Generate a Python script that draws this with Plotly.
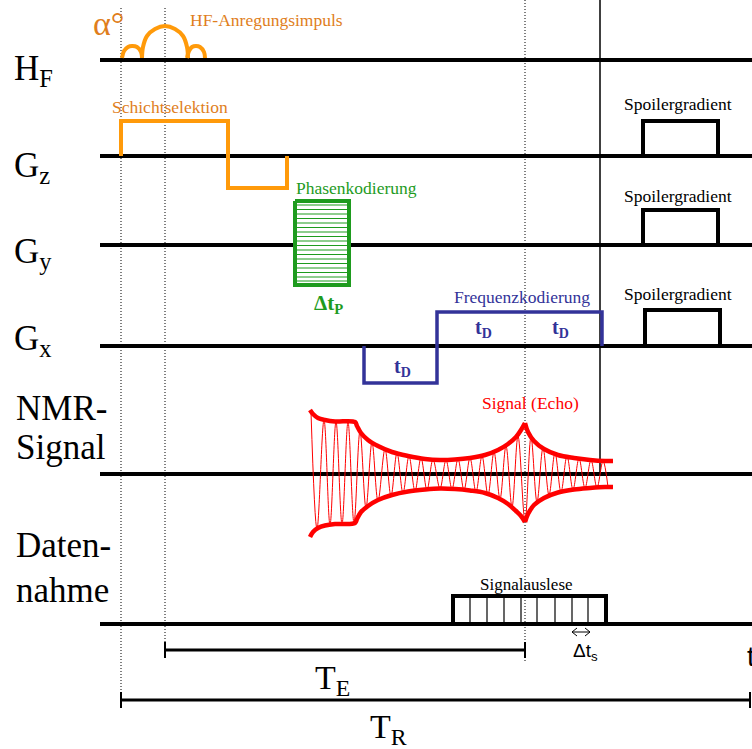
import plotly.graph_objects as go

W, H = 752, 749

# ---- channel baselines (y positions in diagram units, top = 0) ----
channel_names = ["HF", "Gz", "Gy", "Gx", "NMR", "Daten"]
baseline_y = [60, 156, 245, 346, 474, 624]
baseline_x0 = 100
baseline_x1 = 752

# ---- timing markers ----
t_rf_start = 121
t_rf_center = 165
t_echo = 525
t_acq_end = 600

# ---- HF pulse (sinc lobes) ----
hf_lobe_left_x = [122, 124, 128, 132, 137, 141, 142]
hf_lobe_left_y = [58, 51, 47, 46, 47, 52, 58]
hf_lobe_main_x = [142, 143, 147, 155, 165, 175, 183, 187, 188]
hf_lobe_main_y = [58, 47, 36, 29, 26, 29, 36, 47, 58]
hf_lobe_right_x = [187, 189, 192, 196, 200, 204, 205]
hf_lobe_right_y = [58, 51, 47, 46, 47, 52, 58]

# ---- gradients ----
gz_x = [121, 121, 228, 228, 287, 287]
gz_y = [156, 121, 121, 188, 188, 156]

gy_box_x = [295, 295, 349, 349, 295]
gy_box_y = [201, 285, 285, 201, 201]
gy_steps_y = [205, 209.5, 214, 218.5, 223, 227.5, 232, 236.5, 241, 245.5,
              250, 254.5, 259, 263.5, 268, 272.5, 277, 281]

gx_x = [364, 364, 437, 437, 602, 602]
gx_y = [346, 383, 383, 312, 312, 346]

spoiler_z_x = [643, 643, 718, 718]
spoiler_z_y = [156, 121, 121, 156]
spoiler_y_x = [643, 643, 718, 718]
spoiler_y_y = [245, 210, 210, 245]
spoiler_x_x = [645, 645, 720, 720]
spoiler_x_y = [346, 310, 310, 346]

# ---- NMR signal envelope ----
env_up_a_x = [310, 313, 318, 325, 335, 355, 357, 361, 368, 378, 392, 408, 425, 440, 455, 470, 485, 498, 508, 516, 521, 525]
env_up_a_y = [410, 414, 418, 420, 421.5, 422, 426, 433, 440, 446, 452, 456, 459, 460, 459.5, 458, 455, 450, 444, 437, 430, 423]
env_up_b_x = [525, 528, 534, 544, 558, 574, 590, 605, 613]
env_up_b_y = [423, 432, 441, 449, 455, 458, 460, 461, 461]
env_lo_a_x = env_up_a_x
env_lo_a_y = [537, 532, 528, 525.5, 524, 523, 519, 512, 506, 500, 495, 491.5, 489.5, 488.5, 489, 490.5, 493, 498, 504, 511, 516, 522]
env_lo_b_x = env_up_b_x
env_lo_b_y = [522, 514, 505, 498, 492.5, 489.5, 488, 487, 487]

# ---- NMR signal oscillation extrema ----
osc_x = [311, 317, 324, 330, 336, 342, 348, 354, 360, 366, 372, 378, 385, 391, 397, 403,
         409, 415, 421, 427, 433, 440, 446, 452, 458, 464, 470, 476, 482, 488, 494, 500,
         506, 512, 518, 525, 531, 537, 543, 549, 555, 561, 567, 573, 579, 585, 591, 597,
         603, 608]
osc_y = [412, 529, 420, 525, 421.5, 524, 422, 523, 431, 508, 442, 501, 449, 496, 453, 493,
         456, 491, 458, 490, 459.5, 488.5, 460, 489, 459, 490, 458, 492, 456, 495, 452, 499,
         446, 507, 436, 521, 437, 502, 448, 495, 453, 492, 456, 489.5, 458.5, 488, 460, 487.5,
         461, 487]

# ---- data acquisition ----
acq_x = [453, 453, 606, 606]
acq_y = [624, 596, 596, 624]
acq_samples_x = [470, 487, 504, 521, 537, 555, 572, 588]

# ---- time intervals ----
te_x = [165, 525]
te_y = 650
tr_x = [121, 750]
tr_y = 700

ORANGE = "#FF9A0A"
ORANGE_TXT = "#E07E1C"
GREEN = "#1E9B1E"
BLUE = "#333399"
RED = "#FF0000"
SERIF = "Liberation Serif"
SANS = "Liberation Sans"

fig = go.Figure()


def line(xs, ys, color="black", width=4, dash=None, shape="linear", fill=None, fillcolor=None):
    fig.add_trace(go.Scatter(
        x=xs, y=ys, mode="lines",
        line=dict(color=color, width=width, dash=dash, shape=shape),
        fill=fill, fillcolor=fillcolor,
        hoverinfo="skip", showlegend=False))


# dotted timing lines
DOT = "1px,2px"
line([t_rf_start, t_rf_start], [8, 694], width=1, dash=DOT)
line([t_rf_center, t_rf_center], [8, 650], width=1, dash=DOT)
line([t_echo, t_echo], [0, 662], width=1, dash=DOT)
line([t_acq_end, t_acq_end], [0, 474], width=1.5)

# baselines
for by in baseline_y:
    line([baseline_x0, baseline_x1], [by, by], width=4)

# HF pulse
for xs, ys in [(hf_lobe_left_x, hf_lobe_left_y), (hf_lobe_main_x, hf_lobe_main_y),
               (hf_lobe_right_x, hf_lobe_right_y)]:
    line(xs, ys, color=ORANGE, width=4, shape="spline")

# Gz
line(gz_x, gz_y, color=ORANGE, width=4)

# Gy phase encoding table
line(gy_box_x, gy_box_y, color=GREEN, width=4, fill="toself", fillcolor="white")
for sy in gy_steps_y:
    line([gy_box_x[0], gy_box_x[2]], [sy, sy], color=GREEN, width=1.2)

# Gx
line(gx_x, gx_y, color=BLUE, width=3.5)

# spoilers
for xs, ys in [(spoiler_z_x, spoiler_z_y), (spoiler_y_x, spoiler_y_y), (spoiler_x_x, spoiler_x_y)]:
    line(xs, ys, width=4)

# NMR signal
line(osc_x, osc_y, color=RED, width=1, shape="spline")
for xs, ys in [(env_up_a_x, env_up_a_y), (env_up_b_x, env_up_b_y),
               (env_lo_a_x, env_lo_a_y), (env_lo_b_x, env_lo_b_y)]:
    line(xs, ys, color=RED, width=4.5, shape="spline")

# acquisition
line(acq_x, acq_y, width=4)
for sx in acq_samples_x:
    line([sx, sx], [596, 624], width=1.2)

# delta t_s arrow
line([572, 590], [632, 632], width=1)
line([577, 572, 577], [628, 632, 636], width=1)
line([585, 590, 585], [628, 632, 636], width=1)

# TE / TR brackets
line(te_x, [te_y, te_y], width=3)
line([te_x[0], te_x[0]], [te_y - 8, te_y + 8], width=2)
line([te_x[1], te_x[1]], [te_y - 8, te_y + 8], width=2)
line(tr_x, [tr_y, tr_y], width=3)
line([tr_x[0], tr_x[0]], [tr_y - 8, tr_y + 8], width=2)
line([tr_x[1], tr_x[1]], [tr_y - 8, tr_y + 8], width=2)

# ---- text ----
anns = []


def txt(x, y, s, size, color="black", family=SERIF, xanchor="center", yanchor="middle"):
    anns.append(dict(x=x, y=y, text=s, showarrow=False, xref="x", yref="y",
                     xanchor=xanchor, yanchor=yanchor,
                     font=dict(family=family, size=size, color=color)))


label_texts = ["H<sub>F</sub>", "G<sub>z</sub>", "G<sub>y</sub>", "G<sub>x</sub>"]
label_y = [70, 167, 253, 340]
for s, ly in zip(label_texts, label_y):
    txt(12, ly, s, 35, xanchor="left")
txt(14, 408, "NMR-", 35, xanchor="left")
txt(14, 447, "Signal", 35, xanchor="left")
txt(14, 545, "Daten-", 35, xanchor="left")
txt(14, 590, "nahme", 35, xanchor="left")

txt(108, 23, "α°", 34, ORANGE_TXT)
txt(266, 20, "HF-Anregungsimpuls", 17.5, ORANGE_TXT)
txt(170, 107, "Schichtselektion", 17.5, ORANGE_TXT)
txt(356, 188, "Phasenkodierung", 17.5, GREEN)
txt(328, 304, "<b>Δt<sub>P</sub></b>", 21, GREEN)
txt(522, 297, "Frequenzkodierung", 17.5, BLUE)
txt(402, 367, "<b>t<sub>D</sub></b>", 20, BLUE)
txt(483, 328, "<b>t<sub>D</sub></b>", 20, BLUE)
txt(560, 328, "<b>t<sub>D</sub></b>", 20, BLUE)
for sy in [104, 196, 294]:
    txt(678, sy, "Spoilergradient", 17.5)
txt(530, 403, "Signal (Echo)", 17.5, RED)
txt(526, 584, "Signalauslese", 17)
txt(585, 652, "Δt<sub>s</sub>", 19, family=SANS)
txt(745, 656, "t", 28, family=SANS, xanchor="left")
txt(332, 680, "T<sub>E</sub>", 34)
txt(388, 729, "T<sub>R</sub>", 34)

fig.update_layout(
    width=W, height=H,
    margin=dict(l=0, r=0, t=0, b=0),
    paper_bgcolor="white", plot_bgcolor="white",
    xaxis=dict(range=[0, W], visible=False, fixedrange=True),
    yaxis=dict(range=[H, 0], visible=False, fixedrange=True),
    annotations=anns,
    showlegend=False,
)

fig.write_html("out.html")
